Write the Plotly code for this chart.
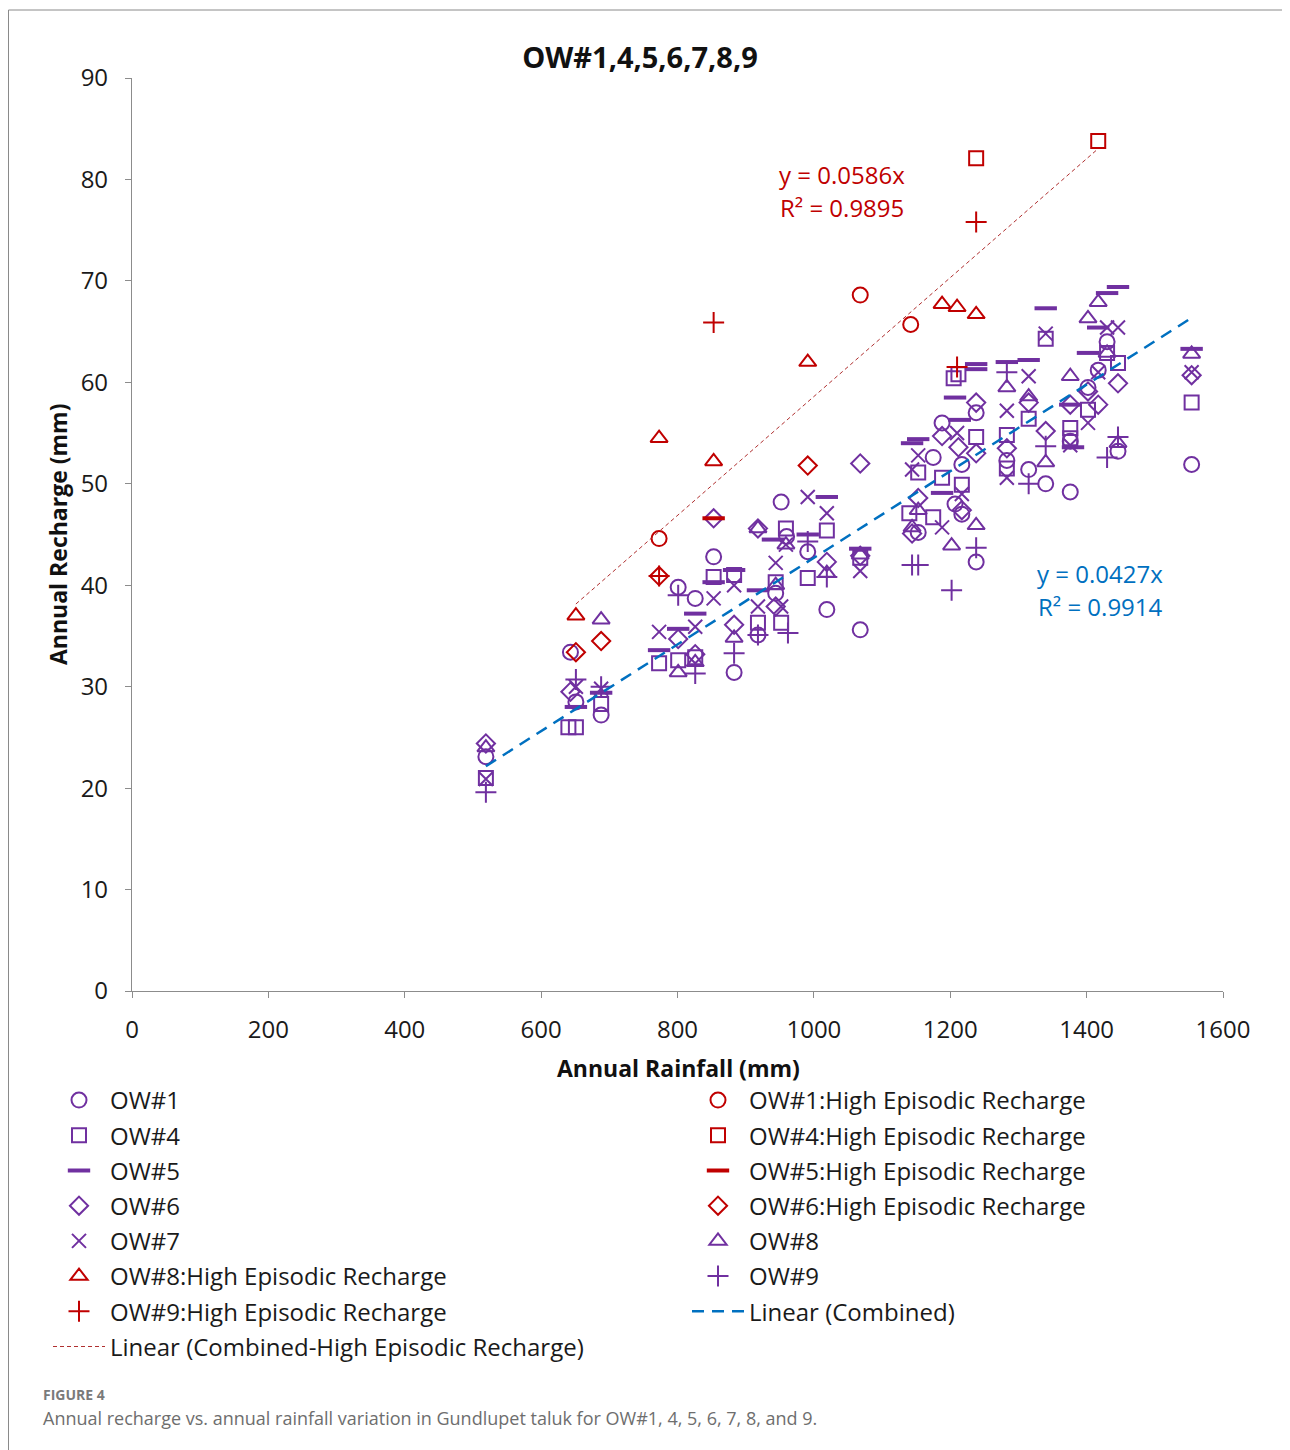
import numpy as np
import plotly.graph_objects as go

# ---------------- data ----------------
ow1_x = [519, 643, 651, 688, 801, 826, 853, 883, 918, 944, 952, 960, 991, 1019, 1068, 1153, 1175, 1188, 1207, 1217, 1217, 1238, 1238, 1283, 1315, 1340, 1376, 1376, 1402, 1417, 1430, 1446, 1554]
ow1_y = [23.1, 33.4, 28.5, 27.2, 39.8, 38.7, 42.8, 31.4, 35.1, 39.2, 48.2, 44.8, 43.3, 37.6, 35.6, 45.2, 52.6, 56.0, 48.0, 51.9, 47.0, 57.0, 42.3, 52.3, 51.4, 50.0, 54.2, 49.2, 59.5, 61.2, 64.0, 53.2, 51.9]

ow4_x = [519, 640, 651, 688, 773, 801, 826, 853, 883, 918, 944, 952, 959, 991, 1019, 1068, 1140, 1153, 1175, 1188, 1205, 1212, 1217, 1238, 1283, 1283, 1315, 1340, 1376, 1376, 1402, 1430, 1446, 1554]
ow4_y = [21.0, 26.0, 26.0, 28.3, 32.3, 32.6, 32.9, 40.8, 41.0, 36.3, 40.3, 36.3, 45.6, 40.7, 45.4, 42.7, 47.1, 51.1, 46.7, 50.6, 60.4, 60.8, 49.9, 54.6, 54.8, 51.5, 56.4, 64.3, 55.5, 54.5, 57.3, 62.9, 61.9, 58.0]

ow5_x = [651, 688, 773, 801, 826, 853, 883, 918, 940, 991, 1019, 1068, 1144, 1153, 1188, 1207, 1214, 1238, 1238, 1283, 1315, 1340, 1376, 1380, 1402, 1417, 1430, 1446, 1554]
ow5_y = [28.0, 29.4, 33.6, 35.7, 37.2, 40.3, 41.5, 39.5, 44.5, 45.0, 48.7, 43.6, 54.0, 54.4, 49.1, 58.5, 56.3, 61.8, 61.3, 62.0, 62.2, 67.3, 57.8, 53.6, 62.9, 65.4, 68.8, 69.4, 63.3]

ow6_x = [519, 643, 801, 826, 853, 883, 918, 944, 1019, 1068, 1068, 1144, 1153, 1188, 1212, 1217, 1238, 1238, 1283, 1315, 1340, 1376, 1402, 1417, 1446, 1554]
ow6_y = [24.4, 29.5, 34.7, 33.2, 46.6, 36.1, 45.6, 37.9, 42.3, 52.0, 42.9, 45.1, 48.6, 54.7, 53.6, 47.4, 58.0, 53.0, 53.5, 58.0, 55.2, 57.8, 59.1, 57.8, 59.9, 60.7]

ow7_x = [519, 651, 688, 773, 826, 853, 883, 918, 944, 952, 959, 991, 1019, 1068, 1144, 1153, 1188, 1210, 1217, 1283, 1283, 1315, 1340, 1376, 1402, 1417, 1430, 1446, 1554]
ow7_y = [20.9, 30.0, 29.8, 35.4, 35.9, 38.7, 40.0, 37.9, 42.2, 37.9, 44.0, 48.7, 47.1, 41.4, 51.4, 52.8, 45.7, 55.0, 49.0, 57.2, 50.6, 60.6, 64.8, 53.8, 56.0, 61.0, 65.4, 65.4, 61.0]

ow8_x = [519, 688, 801, 826, 883, 918, 944, 959, 1019, 1068, 1144, 1153, 1202, 1238, 1283, 1315, 1340, 1376, 1402, 1417, 1430, 1446, 1554]
ow8_y = [24.0, 36.6, 31.4, 32.4, 34.8, 45.6, 40.0, 44.0, 41.2, 43.0, 45.7, 47.4, 43.9, 45.9, 59.5, 58.6, 52.1, 60.6, 66.3, 67.9, 62.9, 54.0, 62.8]

ow9_x = [519, 651, 688, 801, 826, 883, 918, 962, 991, 1019, 1144, 1153, 1202, 1238, 1283, 1315, 1340, 1430, 1446]
ow9_y = [19.6, 30.7, 30.0, 39.0, 31.3, 33.3, 35.1, 35.3, 44.3, 40.8, 42.0, 42.0, 39.5, 43.7, 61.0, 50.0, 53.7, 52.6, 54.6]

ow1h_x = [773, 1068, 1142]
ow1h_y = [44.6, 68.6, 65.7]
ow4h_x = [1238, 1417]
ow4h_y = [82.1, 83.8]
ow5h_x = [853]
ow5h_y = [46.6]
ow6h_x = [651, 688, 773, 991]
ow6h_y = [33.4, 34.5, 40.9, 51.8]
ow8h_x = [651, 773, 853, 991, 1188, 1210, 1238]
ow8h_y = [37.0, 54.5, 52.2, 62.0, 67.7, 67.4, 66.7]
ow9h_x = [773, 853, 1210, 1238]
ow9h_y = [40.9, 65.9, 61.5, 75.8]

slope_combined = 0.0427
r2_combined = 0.9914
slope_high = 0.0586
r2_high = 0.9895

x_ticks = [0, 200, 400, 600, 800, 1000, 1200, 1400, 1600]
y_ticks = [0, 10, 20, 30, 40, 50, 60, 70, 80, 90]

# ---------------- styling ----------------
PURPLE = "#7030A0"
RED = "#C00000"
BLUE = "#0070C0"
TREND_RED = "#B03030"
FONT = "Open Sans"

fig = go.Figure()

def add(name, xs, ys, symbol, color, legend, size=14, lw=2):
    fig.add_trace(go.Scatter(
        x=xs, y=ys, mode="markers", name=name, legend=legend, legendgroup=name,
        marker=dict(symbol=symbol, size=size, color=color,
                    line=dict(color=color, width=lw)),
    ))

add("OW#1", ow1_x, ow1_y, "circle-open", PURPLE, "legend", 15)
add("OW#4", ow4_x, ow4_y, "square-open", PURPLE, "legend", 14)
add("OW#5", ow5_x, ow5_y, "line-ew-open", PURPLE, "legend", 16, 4)
add("OW#6", ow6_x, ow6_y, "diamond-open", PURPLE, "legend", 14)
add("OW#7", ow7_x, ow7_y, "x-thin-open", PURPLE, "legend", 14)
add("OW#8", ow8_x, ow8_y, "triangle-up-open", PURPLE, "legend2", 15)
add("OW#9", ow9_x, ow9_y, "cross-thin-open", PURPLE, "legend2", 15)
add("OW#1:High Episodic Recharge", ow1h_x, ow1h_y, "circle-open", RED, "legend2", 15)
add("OW#4:High Episodic Recharge", ow4h_x, ow4h_y, "square-open", RED, "legend2", 14)
add("OW#5:High Episodic Recharge", ow5h_x, ow5h_y, "line-ew-open", RED, "legend2", 16, 4)
add("OW#6:High Episodic Recharge", ow6h_x, ow6h_y, "diamond-open", RED, "legend2", 14)
add("OW#8:High Episodic Recharge", ow8h_x, ow8h_y, "triangle-up-open", RED, "legend", 15)
add("OW#9:High Episodic Recharge", ow9h_x, ow9h_y, "cross-thin-open", RED, "legend", 15)

# trend lines through origin, drawn across the data ranges
all_x = np.array(ow1_x + ow4_x + ow5_x + ow6_x + ow7_x + ow8_x + ow9_x, dtype=float)
hi_x = np.array(ow1h_x + ow4h_x + ow5h_x + ow6h_x + ow8h_x + ow9h_x, dtype=float)
cx = np.array([all_x.min(), all_x.max()])
hx = np.array([hi_x.min(), hi_x.max()])
fig.add_trace(go.Scatter(x=cx, y=slope_combined * cx, mode="lines", name="Linear (Combined)",
                         legend="legend2", legendgroup="lc",
                         line=dict(color=BLUE, width=2.5, dash="12px,8px")))
fig.add_trace(go.Scatter(x=hx, y=slope_high * hx, mode="lines",
                         name="Linear (Combined-High Episodic Recharge)",
                         legend="legend", legendgroup="lh",
                         line=dict(color=TREND_RED, width=1, dash="4px,3px")))

# legend ranks (row order inside each column)
left_order = ["OW#1", "OW#4", "OW#5", "OW#6", "OW#7", "OW#8:High Episodic Recharge",
              "OW#9:High Episodic Recharge", "Linear (Combined-High Episodic Recharge)"]
right_order = ["OW#1:High Episodic Recharge", "OW#4:High Episodic Recharge",
               "OW#5:High Episodic Recharge", "OW#6:High Episodic Recharge",
               "OW#8", "OW#9", "Linear (Combined)"]
for tr in fig.data:
    if tr.name in left_order:
        tr.legendrank = left_order.index(tr.name) + 1
    else:
        tr.legendrank = right_order.index(tr.name) + 1

# ---------------- layout ----------------
# the page adds an 8px body margin; positions below are given in screen pixels
OFF = 8
W, H = 1290, 1450
L, T = 132 - OFF, 78 - OFF
R = W - (1223 - OFF)
B = H - (991 - OFF)
pw, ph = W - L - R, H - T - B

def px2paper_x(px):
    return (px - OFF - L) / pw

def px2paper_y(py):
    return (H - B - (py - OFF)) / ph

axis_common = dict(showgrid=False, zeroline=False, showline=True, linecolor="#8c8c8c",
                   linewidth=1.2, ticks="outside", ticklen=6, tickcolor="#8c8c8c",
                   tickfont=dict(family=FONT, size=24, color="#1a1a1a"), mirror=False)

legend_common = dict(orientation="v", xanchor="left", yanchor="top",
                     font=dict(family=FONT, size=24, color="#1a1a1a"),
                     itemwidth=52, tracegroupgap=1, traceorder="grouped",
                     bgcolor="rgba(0,0,0,0)", itemclick=False, itemdoubleclick=False)

fig.update_layout(
    width=W, height=H,
    margin=dict(l=L, r=R, t=T, b=B, autoexpand=False),
    paper_bgcolor="white", plot_bgcolor="white",
    font=dict(family=FONT, color="#1a1a1a"),
    title=dict(text="<b>OW#1,4,5,6,7,8,9</b>", x=(640 - OFF) / W, xref="container",
               xanchor="center", y=1 - (58 - OFF) / H, yref="container", yanchor="middle",
               font=dict(family=FONT, size=29, color="#111")),
    xaxis=dict(range=[0, 1600], tickvals=x_ticks, ticklabelstandoff=11, **axis_common),
    yaxis=dict(range=[0, 90], tickvals=y_ticks, ticklabelstandoff=12, **axis_common),
    showlegend=True,
    legend=dict(x=px2paper_x(48), y=px2paper_y(1078), **legend_common),
    legend2=dict(x=px2paper_x(687), y=px2paper_y(1078), **legend_common),
)

ann = [
    dict(text="<b>Annual Rainfall (mm)</b>", x=px2paper_x(678), y=px2paper_y(1068),
         font=dict(size=23, color="#111")),
    dict(text="<b>Annual Recharge (mm)</b>", x=px2paper_x(58), y=px2paper_y(535),
         textangle=-90, font=dict(size=23, color="#111")),
    dict(text="y = %.4fx" % slope_high, x=px2paper_x(842), y=px2paper_y(175),
         font=dict(size=24, color=RED)),
    dict(text="R² = %.4f" % r2_high, x=px2paper_x(842), y=px2paper_y(208),
         font=dict(size=24, color=RED)),
    dict(text="y = %.4fx" % slope_combined, x=px2paper_x(1100), y=px2paper_y(573),
         font=dict(size=24, color=BLUE)),
    dict(text="R² = %.4f" % r2_combined, x=px2paper_x(1100), y=px2paper_y(606),
         font=dict(size=24, color=BLUE)),
    dict(text="<b>FIGURE 4</b>", x=px2paper_x(41), y=px2paper_y(1394), xanchor="left",
         font=dict(size=14, color="#7a7a7a")),
    dict(text="Annual recharge vs. annual rainfall variation in Gundlupet taluk for OW#1, 4, 5, 6, 7, 8, and 9.",
         x=px2paper_x(41), y=px2paper_y(1418), xanchor="left",
         font=dict(size=18, color="#6e6e6e")),
]
for a in ann:
    a.setdefault("xanchor", "center")
    fig.add_annotation(xref="paper", yref="paper", showarrow=False, yanchor="middle",
                       font_family=FONT, **a)

# thin image frame (left and top edges)
fig.add_shape(type="line", xref="paper", yref="paper", x0=px2paper_x(8.5), x1=px2paper_x(8.5),
              y0=px2paper_y(10), y1=px2paper_y(1460), line=dict(color="#8a8a8a", width=1))
fig.add_shape(type="line", xref="paper", yref="paper", x0=px2paper_x(8.5), x1=px2paper_x(1300),
              y0=px2paper_y(10), y1=px2paper_y(10), line=dict(color="#8a8a8a", width=1))

fig.write_html("out.html")
